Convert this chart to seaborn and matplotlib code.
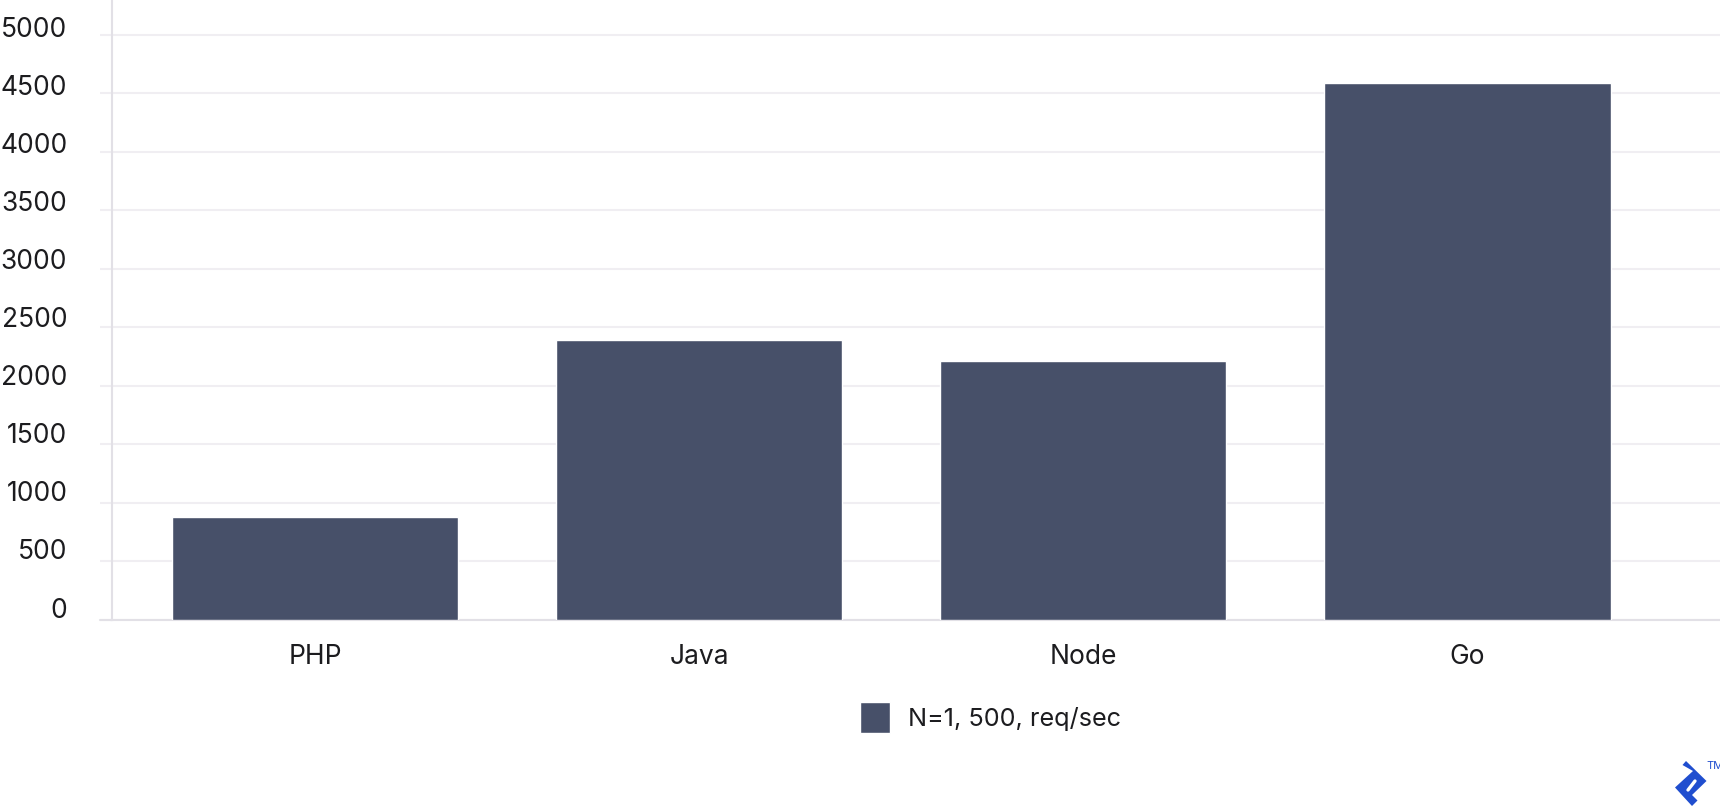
import matplotlib
matplotlib.use("Agg")
import matplotlib.pyplot as plt
import seaborn as sns
import pandas as pd
from matplotlib.patches import Polygon
from matplotlib.lines import Line2D
from matplotlib.transforms import ScaledTranslation, Affine2D

categories = ["PHP", "Java", "Node", "Go"]
values = [872, 2388, 2208, 4588]
series_name = "N=1, 500, req/sec"
y_ticks = [0, 500, 1000, 1500, 2000, 2500, 3000, 3500, 4000, 4500, 5000]

W, H = 1720, 806
BAR = "#475069"
GRID = "#f0eef2"
AXIS = "#e2e0e6"
INK = "#1c1c1f"
BLUE = "#204ecf"
FS = 19
LEG_FS = 18.2

sns.set_theme(style="white")
plt.rcParams["font.family"] = ["Inter", "DejaVu Sans"]

fig = plt.figure(figsize=(W / 100, H / 100), dpi=100, facecolor="white")
ax = fig.add_axes([111.5 / W, (H - 619.5) / H, (W - 111.5) / W, 619.5 / H])

df = pd.DataFrame({"cat": categories, "val": values, "series": series_name})
sns.barplot(data=df, x="cat", y="val", hue="series", palette=[BAR], width=0.745,
            saturation=1, dodge=False, ax=ax, zorder=3)

ax.set_xlim(-0.531, 3.6576)
ax.set_ylim(0, 5295)
ax.set_yticks(y_ticks)
ax.set_xlabel("")
ax.set_ylabel("")
ax.set_axisbelow(True)
ax.grid(axis="y", color=GRID, linewidth=1.5)
ax.grid(axis="x", visible=False)

for side in ["top", "right"]:
    ax.spines[side].set_visible(False)
for side in ["left", "bottom"]:
    ax.spines[side].set_color(AXIS)
    ax.spines[side].set_linewidth(1.5)

ax.tick_params(axis="y", length=8.3, width=1.5, color=GRID, pad=23.5,
               labelsize=FS, labelcolor=INK, left=True)
ax.tick_params(axis="x", length=0, pad=18, labelsize=FS, labelcolor=INK)
labs = ax.get_yticklabels()
for i, lab in enumerate(labs):
    up = 12.0 - 4.4 * i / (len(labs) - 1)
    lab.set_transform(lab.get_transform() + ScaledTranslation(0, up / 100, fig.dpi_scale_trans))

# bottom overhang of the x axis line
fig.add_artist(Line2D([100 / W, 111.5 / W], [(H - 619.5) / H] * 2, color=AXIS, lw=1.5))

handles, labels = ax.get_legend_handles_labels()
ax.legend(handles, labels, loc="center left",
          bbox_to_anchor=(860 / W, (H - 717.5) / H), bbox_transform=fig.transFigure,
          frameon=False, fontsize=LEG_FS, labelcolor=INK,
          handlelength=1.2, handleheight=1.5, handletextpad=0.7,
          borderpad=0, borderaxespad=0)

# brand mark, drawn in pixel space
px = Affine2D().scale(1 / W, -1 / H).translate(0, 1) + fig.transFigure
fig.add_artist(Polygon([(1686, 761), (1706.5, 781), (1692, 795), (1697.5, 800.5),
                        (1692, 806), (1675, 787.5), (1693, 771), (1682.5, 765)],
                       closed=True, facecolor=BLUE, edgecolor="none", transform=px))
fig.add_artist(Line2D([1688, 1695], [790, 781], color="white", lw=2.4, transform=px,
                      solid_capstyle="round"))
fig.text(1706 / W, (H - 766) / H, "TM", color=BLUE, fontsize=8, va="center", ha="left")

fig.savefig("out.png", dpi=100, facecolor="white")
